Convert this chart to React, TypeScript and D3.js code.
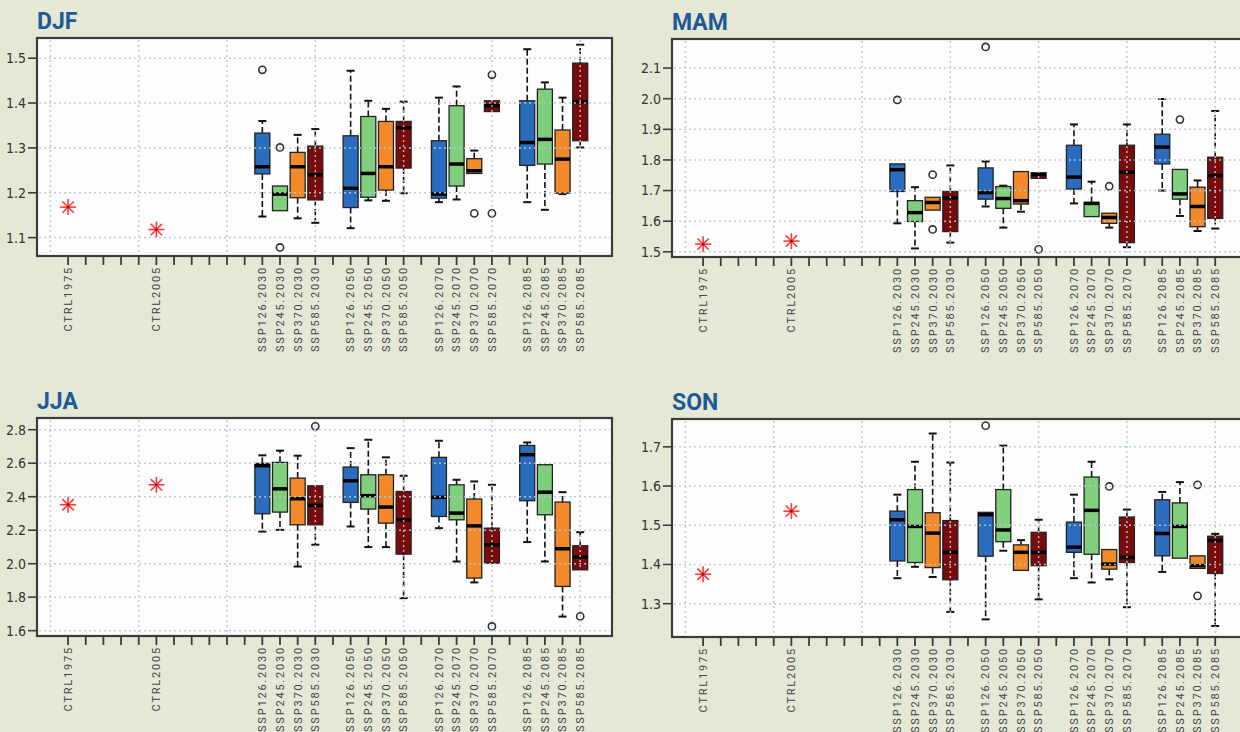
import React from "react";
import * as d3 from "d3";

// slot layout along the x axis (empty strings = unlabeled tick)
const slots = [
  "CTRL1975", "", "", "", "", "CTRL2005", "", "", "", "", "",
  "SSP126.2030", "SSP245.2030", "SSP370.2030", "SSP585.2030", "",
  "SSP126.2050", "SSP245.2050", "SSP370.2050", "SSP585.2050", "",
  "SSP126.2070", "SSP245.2070", "SSP370.2070", "SSP585.2070", "",
  "SSP126.2085", "SSP245.2085", "SSP370.2085", "SSP585.2085",
];

const scenarios = slots.filter((s) => s.startsWith("SSP"));
const scenarioColors = ["#2a6dbf", "#7fcf7c", "#f2892a", "#7b0b0b"];
const ctrlSlots = ["CTRL1975", "CTRL2005"];
const gridSlots = [-1, 4, 9, 14, 19, 24, 29];

// box stats: [whiskerLow, q1, median, q3, whiskerHigh]
const djfStats = [
  [1.147, 1.242, 1.258, 1.333, 1.36], [1.16, 1.16, 1.197, 1.215, 1.215],
  [1.143, 1.189, 1.258, 1.29, 1.329], [1.133, 1.184, 1.24, 1.304, 1.342],
  [1.121, 1.167, 1.21, 1.327, 1.472], [1.183, 1.19, 1.243, 1.37, 1.405],
  [1.182, 1.206, 1.258, 1.359, 1.387], [1.199, 1.255, 1.345, 1.359, 1.403],
  [1.179, 1.188, 1.197, 1.316, 1.412], [1.185, 1.215, 1.264, 1.394, 1.437],
  [1.243, 1.243, 1.249, 1.276, 1.294], [1.381, 1.381, 1.394, 1.405, 1.405],
  [1.179, 1.261, 1.312, 1.405, 1.52], [1.162, 1.264, 1.319, 1.431, 1.446],
  [1.197, 1.199, 1.275, 1.34, 1.412], [1.301, 1.316, 1.403, 1.489, 1.53],
];
const djfOutliers = [[0, 1.474], [1, 1.301], [1, 1.078], [10, 1.154], [11, 1.463], [11, 1.154]];
const djfCtrl = [1.168, 1.118];
const djfTicks = [1.1, 1.2, 1.3, 1.4, 1.5];

const mamStats = [
  [1.593, 1.697, 1.768, 1.787, 1.787], [1.511, 1.599, 1.628, 1.667, 1.711],
  [1.636, 1.636, 1.661, 1.678, 1.678], [1.53, 1.566, 1.676, 1.697, 1.782],
  [1.648, 1.672, 1.693, 1.774, 1.795], [1.579, 1.642, 1.674, 1.713, 1.716],
  [1.631, 1.656, 1.667, 1.762, 1.762], [1.74, 1.74, 1.752, 1.758, 1.758],
  [1.658, 1.705, 1.744, 1.848, 1.916], [1.615, 1.615, 1.658, 1.661, 1.729],
  [1.579, 1.593, 1.612, 1.626, 1.626], [1.515, 1.53, 1.76, 1.848, 1.916],
  [1.7, 1.787, 1.842, 1.884, 1.999], [1.617, 1.672, 1.689, 1.769, 1.769],
  [1.568, 1.582, 1.648, 1.711, 1.733], [1.576, 1.609, 1.749, 1.809, 1.96],
];
const mamOutliers = [[0, 1.996], [2, 1.752], [2, 1.573], [4, 2.169], [7, 1.508], [10, 1.714], [13, 1.932]];
const mamCtrl = [1.525, 1.535];
const mamTicks = [1.5, 1.6, 1.7, 1.8, 1.9, 2.0, 2.1];

const jjaStats = [
  [2.192, 2.298, 2.585, 2.599, 2.647], [2.202, 2.308, 2.447, 2.605, 2.675],
  [1.983, 2.232, 2.388, 2.511, 2.645], [2.113, 2.232, 2.348, 2.465, 2.465],
  [2.222, 2.366, 2.495, 2.577, 2.69], [2.099, 2.326, 2.406, 2.531, 2.74],
  [2.099, 2.242, 2.338, 2.531, 2.635], [1.794, 2.057, 2.262, 2.431, 2.525],
  [2.212, 2.282, 2.396, 2.635, 2.734], [2.013, 2.262, 2.302, 2.471, 2.501],
  [1.888, 1.914, 2.226, 2.386, 2.491], [2.003, 2.003, 2.113, 2.212, 2.471],
  [2.129, 2.376, 2.651, 2.706, 2.724], [2.013, 2.292, 2.427, 2.591, 2.591],
  [1.684, 1.864, 2.089, 2.368, 2.427], [1.963, 1.963, 2.039, 2.107, 2.188],
];
const jjaOutliers = [[3, 2.82], [11, 1.625], [15, 1.685]];
const jjaCtrl = [2.352, 2.471];
const jjaTicks = [1.6, 1.8, 2.0, 2.2, 2.4, 2.6, 2.8];

const sonStats = [
  [1.365, 1.409, 1.514, 1.536, 1.578], [1.394, 1.405, 1.497, 1.591, 1.662],
  [1.368, 1.392, 1.48, 1.532, 1.734], [1.279, 1.361, 1.431, 1.512, 1.66],
  [1.26, 1.421, 1.527, 1.533, 1.533], [1.435, 1.458, 1.488, 1.591, 1.703],
  [1.385, 1.385, 1.431, 1.45, 1.462], [1.311, 1.397, 1.431, 1.482, 1.514],
  [1.365, 1.431, 1.444, 1.508, 1.578], [1.354, 1.426, 1.538, 1.623, 1.662],
  [1.362, 1.388, 1.401, 1.438, 1.438], [1.291, 1.405, 1.418, 1.521, 1.54],
  [1.381, 1.422, 1.479, 1.565, 1.585], [1.416, 1.416, 1.497, 1.557, 1.61],
  [1.39, 1.39, 1.397, 1.422, 1.422], [1.243, 1.377, 1.461, 1.472, 1.478],
];
const sonOutliers = [[4, 1.754], [10, 1.599], [14, 1.603], [14, 1.32]];
const sonCtrl = [1.375, 1.536];
const sonTicks = [1.3, 1.4, 1.5, 1.6, 1.7];

const W = 1240;
const H = 732;
const labelFont = "Roboto, 'DejaVu Sans', sans-serif";
const numFont = "'DejaVu Sans Condensed', 'Liberation Sans Narrow', Roboto, sans-serif";

type PanelProps = {
  title: string;
  left: number;
  top: number;
  stats: number[][];
  outliers: number[][];
  ctrl: number[];
  ticks: number[];
  yDomain: [number, number];
};

const Panel = ({ title, left, top, stats, outliers, ctrl, ticks, yDomain }: PanelProps) => {
  const width = 575;
  const height = 218;
  const x = d3.scaleLinear().domain([-1.76, 30.8]).range([left, left + width]);
  const y = d3.scaleLinear().domain(yDomain).range([top + height, top]);
  const halfBox = x(0.425) - x(0);
  const capHalf = 4;
  const fmt = d3.format(".1f");

  return (
    <g>
      <text x={left} y={top - 9.5} fontFamily={labelFont} fontWeight={700}
        fontSize={23} fill="#1f5a97">{title}</text>
      <rect x={left} y={top} width={width} height={height} fill="#fdfdfd" />

      {/* boxes */}
      {stats.map((s, i) => {
        const cx = x(slots.indexOf(scenarios[i]));
        const col = scenarioColors[i % 4];
        const [lo, q1, med, q3, hi] = s;
        return (
          <g key={i}>
            {hi > q3 + 0.001 && (
              <g>
                <line x1={cx} x2={cx} y1={y(q3)} y2={y(hi)} stroke="#111" strokeWidth={1.6} strokeDasharray="6,3" />
                <line x1={cx - capHalf} x2={cx + capHalf} y1={y(hi)} y2={y(hi)} stroke="#111" strokeWidth={2} />
              </g>
            )}
            {lo < q1 - 0.001 && (
              <g>
                <line x1={cx} x2={cx} y1={y(q1)} y2={y(lo)} stroke="#111" strokeWidth={1.6} strokeDasharray="6,3" />
                <line x1={cx - capHalf} x2={cx + capHalf} y1={y(lo)} y2={y(lo)} stroke="#111" strokeWidth={2} />
              </g>
            )}
            <rect x={cx - halfBox} y={y(q3)} width={halfBox * 2} height={Math.max(1, y(q1) - y(q3))}
              fill={col} stroke="#222" strokeWidth={1.3} />
            <line x1={cx - halfBox} x2={cx + halfBox} y1={y(med)} y2={y(med)} stroke="#000" strokeWidth={3.5} />
          </g>
        );
      })}

      {outliers.map(([i, v], k) => (
        <circle key={k} cx={x(slots.indexOf(scenarios[i]))} cy={y(v)} r={3.6}
          fill="none" stroke="#333" strokeWidth={1.6} />
      ))}

      {/* control points as asterisks */}
      {ctrl.map((v, k) => {
        const cx = x(slots.indexOf(ctrlSlots[k]));
        const cy = y(v);
        const r = 8;
        return (
          <g key={k} stroke="#ff3a3a" strokeWidth={1.6}>
            {[0, 45, 90, 135].map((a) => {
              const rad = (a * Math.PI) / 180;
              return (
                <line key={a} x1={cx - r * Math.cos(rad)} y1={cy - r * Math.sin(rad)}
                  x2={cx + r * Math.cos(rad)} y2={cy + r * Math.sin(rad)} />
              );
            })}
            <circle cx={cx} cy={cy} r={1.4} fill="#a01010" stroke="none" />
          </g>
        );
      })}

      {/* grid drawn on top */}
      <g stroke="#b4cadb" strokeWidth={1.5} strokeDasharray="2,3" opacity={0.9}>
        {ticks.map((t) => (
          <line key={t} x1={left + 2} x2={left + width - 2} y1={y(t)} y2={y(t)} />
        ))}
        {gridSlots.map((g) => (
          <line key={g} x1={x(g)} x2={x(g)} y1={top + 2} y2={top + height - 2} />
        ))}
      </g>

      <rect x={left} y={top} width={width} height={height} fill="none" stroke="#3c3c3c" strokeWidth={2.2} />

      {/* y axis */}
      {ticks.map((t) => (
        <g key={t}>
          <line x1={left - 9} x2={left} y1={y(t)} y2={y(t)} stroke="#3c3c3c" strokeWidth={1.6} />
          <text x={left - 11} y={y(t)} dy="0.35em" textAnchor="end" fontFamily={numFont}
            fontSize={14} fill="#333">{fmt(t)}</text>
        </g>
      ))}

      {/* x axis */}
      {slots.map((s, i) => (
        <g key={i}>
          <line x1={x(i)} x2={x(i)} y1={top + height} y2={top + height + 9} stroke="#3c3c3c" strokeWidth={1.8} />
          {s && (
            <text transform={`translate(${x(i)},${top + height + 10}) rotate(-90)`} dy="0.35em"
              textAnchor="end" fontFamily={labelFont} fontSize={11} letterSpacing={1.8} fill="#444">{s}</text>
          )}
        </g>
      ))}
    </g>
  );
};

const App = () => (
  <div style={{ position: "fixed", left: 0, top: 0, width: W, height: H, overflow: "hidden" }}>
    <svg width={W} height={H}>
      <rect width={W} height={H} fill="#e5e8d5" />
      <Panel title="DJF" left={37} top={38} stats={djfStats} outliers={djfOutliers} ctrl={djfCtrl}
        ticks={djfTicks} yDomain={[1.059, 1.545]} />
      <Panel title="MAM" left={672} top={39} stats={mamStats} outliers={mamOutliers} ctrl={mamCtrl}
        ticks={mamTicks} yDomain={[1.483, 2.195]} />
      <Panel title="JJA" left={37} top={418} stats={jjaStats} outliers={jjaOutliers} ctrl={jjaCtrl}
        ticks={jjaTicks} yDomain={[1.568, 2.87]} />
      <Panel title="SON" left={672} top={419} stats={sonStats} outliers={sonOutliers} ctrl={sonCtrl}
        ticks={sonTicks} yDomain={[1.215, 1.771]} />
    </svg>
  </div>
);

export default App;
